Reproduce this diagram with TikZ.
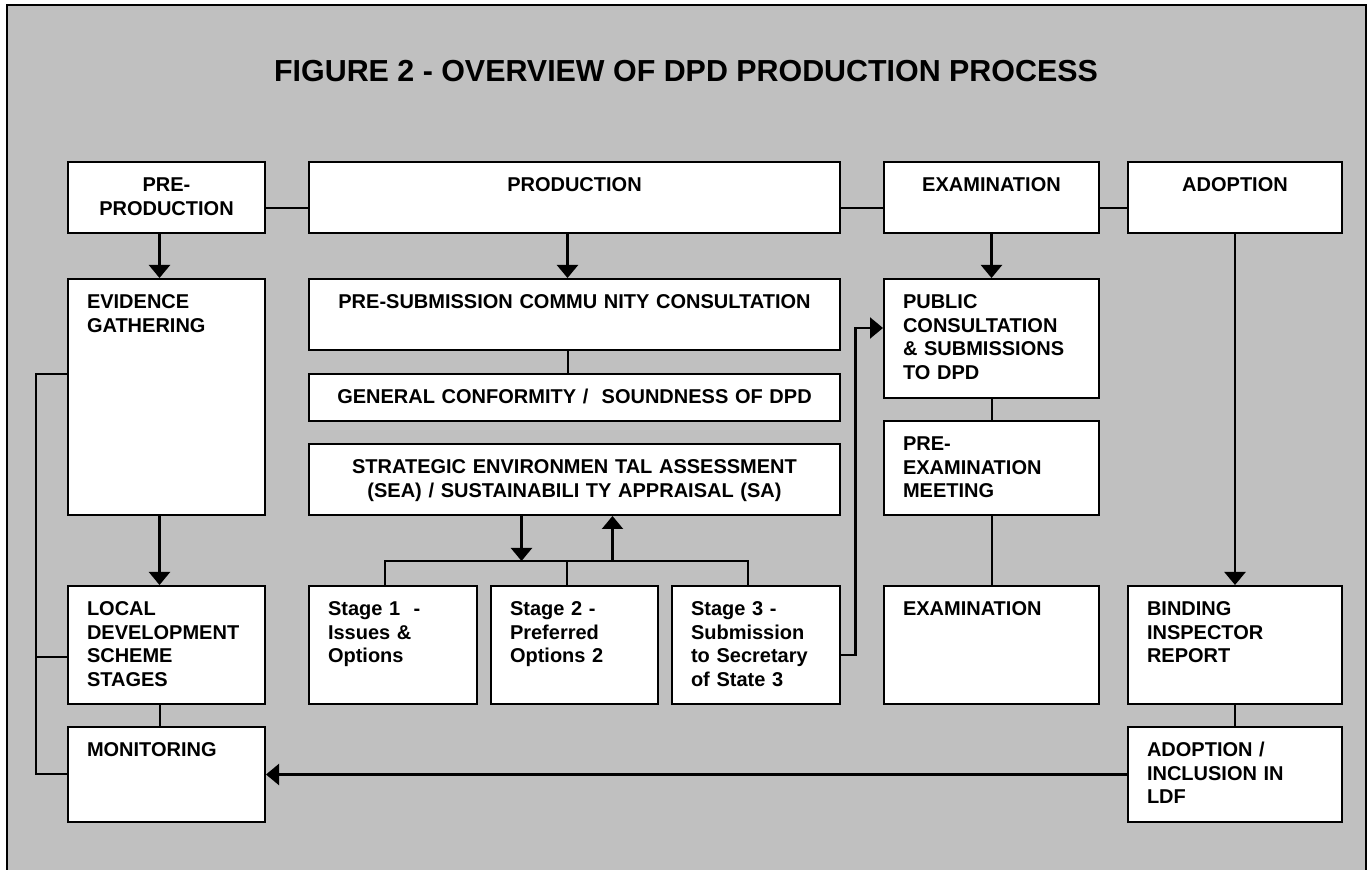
\documentclass[tikz,border=0pt]{standalone}
\usepackage{fontspec}
\setmainfont{Liberation Sans}
\usepackage{xcolor}
\usepackage{tikz}
\usetikzlibrary{arrows.meta}
\definecolor{panelgray}{RGB}{192,192,192}

\begin{document}
\begin{tikzpicture}[x=0.5pt, y=-0.5pt,
  box/.style={draw, line width=1pt, fill=white, anchor=north west, inner xsep=9.5pt, inner ysep=0pt,
    text height=15pt, font=\bfseries\fontsize{10}{11.75}\selectfont},
  headbox/.style={box, align=center},
  leftbox/.style={box, align=left},
  line/.style={line width=1pt},
  arr/.style={line width=1.1pt, -{Triangle[length=6.5pt,width=10.5pt]}}]
\useasboundingbox (0,0) rectangle (1372,870);
\begin{scope}
\clip (0,0) rectangle (1372,870);
\draw[fill=panelgray, line width=1pt] (6.5,5.5) rectangle (1366,900);
\end{scope}

\node[anchor=base, font=\bfseries\fontsize{15.2}{18}\selectfont] (title) at (686,82) {FIGURE 2 - OVERVIEW OF DPD PRODUCTION PROCESS};

% stage headings
\node[headbox, text width=79.5pt, text depth=20.5pt] (pre) at (67,161) {PRE-\\PRODUCTION};
\node[headbox, text width=246.5pt, text depth=20.5pt] (prod) at (308,161) {PRODUCTION};
\node[headbox, text width=88.5pt, text depth=20.5pt] (exam) at (883,161) {EXAMINATION};
\node[headbox, text width=88pt, text depth=20.5pt] (adopt) at (1127,161) {ADOPTION};

\node[leftbox, text width=79.5pt, text depth=103pt] (evidence) at (67,278) {EVIDENCE\\GATHERING};
\node[headbox, text width=246.5pt, text depth=20.5pt] (presub) at (308,278) {PRE-SUBMISSION COMMU NITY CONSULTATION};
\node[headbox, text width=246.5pt, text depth=8.5pt] (general) at (308,373) {GENERAL CONFORMITY /\ \ SOUNDNESS OF DPD};
\node[headbox, text width=246.5pt, text depth=20.5pt] (sea) at (308,443) {STRATEGIC ENVIRONMEN TAL ASSESSMENT\\(SEA) / SUSTAINABILI TY APPRAISAL (SA)};
\node[leftbox, text width=88.5pt, text depth=44.5pt] (public) at (883,278) {PUBLIC\\CONSULTATION\\\& SUBMISSIONS\\TO DPD};
\node[leftbox, text width=88.5pt, text depth=32pt] (preexam) at (883,420) {PRE-\\EXAMINATION\\MEETING};

\node[leftbox, text width=79.5pt, text depth=44pt] (local) at (67,585) {LOCAL\\DEVELOPMENT\\SCHEME\\STAGES};
\node[leftbox, text width=65pt, text depth=44pt] (stage1) at (308,585) {Stage 1\ \ -\\Issues \&\\Options};
\node[leftbox, text width=64.5pt, text depth=44pt] (stage2) at (490,585) {Stage 2 -\\Preferred\\Options 2};
\node[leftbox, text width=65pt, text depth=44pt] (stage3) at (671,585) {Stage 3 -\\Submission\\to Secretary\\of State 3};
\node[leftbox, text width=88.5pt, text depth=44pt] (exam2) at (883,585) {EXAMINATION};
\node[leftbox, text width=88pt, text depth=44pt] (binding) at (1127,585) {BINDING\\INSPECTOR\\REPORT};

\node[leftbox, text width=79.5pt, text depth=32.5pt] (monitoring) at (67,726) {MONITORING};
\node[leftbox, text width=88pt, text depth=32.5pt] (adoptinc) at (1127,726) {ADOPTION /\\INCLUSION IN\\LDF};

% links between the headings
\coordinate (topline) at (0,208);
\draw[line] (pre.east |- topline) -- (prod.west |- topline);
\draw[line] (prod.east |- topline) -- (exam.west |- topline);
\draw[line] (exam.east |- topline) -- (adopt.west |- topline);

\draw[arr] ([xshift=-3.5pt]pre.south) -- ([xshift=-3.5pt]evidence.north);
\draw[arr] ([xshift=-3.5pt]prod.south) -- ([xshift=-3.5pt]presub.north);
\draw[arr] (exam.south) -- (public.north);
\draw[arr] (adopt.south) -- (binding.north);
\draw[arr] ([xshift=-3.5pt]evidence.south) -- ([xshift=-3.5pt]local.north);

\draw[line] ([xshift=-3.5pt]presub.south) -- ([xshift=-3.5pt]general.north);
\draw[line] ([xshift=-3.5pt]local.south) -- ([xshift=-3.5pt]monitoring.north);
\draw[line] (public.south) -- (preexam.north);
\draw[line] (preexam.south) -- (exam2.north);
\draw[line] (binding.south) -- (adoptinc.north);
\draw[arr] (adoptinc.west) -- (monitoring.east);

% SEA and the three stages
\coordinate (bus) at (0,561);
\coordinate (s1) at ([xshift=-4pt]stage1.north);
\coordinate (s2) at ([xshift=-3.75pt]stage2.north);
\coordinate (s3) at ([xshift=-4pt]stage3.north);
\coordinate (seadown) at ([xshift=-26.5pt]sea.south);
\coordinate (seaup) at ([xshift=19pt]sea.south);
\draw[line] (s1) |- (s3 |- bus) -- (s3);
\draw[line] (s2) -- (s2 |- bus);
\draw[arr] (seadown) -- (seadown |- bus);
\draw[arr] (seaup |- bus) -- (seaup);

\draw[arr] ([yshift=-5pt]stage3.east) -- ++(7.25pt,0) |- ([yshift=5.25pt]public.west);

% monitoring feedback on the left
\coordinate (spine) at (36,0);
\draw[line] ([yshift=11.5pt]evidence.west) -| (spine |- monitoring.west) -- (monitoring.west);
\draw[line] ([yshift=-6pt]local.west) -- ++(-15.5pt,0);
\end{tikzpicture}
\end{document}
